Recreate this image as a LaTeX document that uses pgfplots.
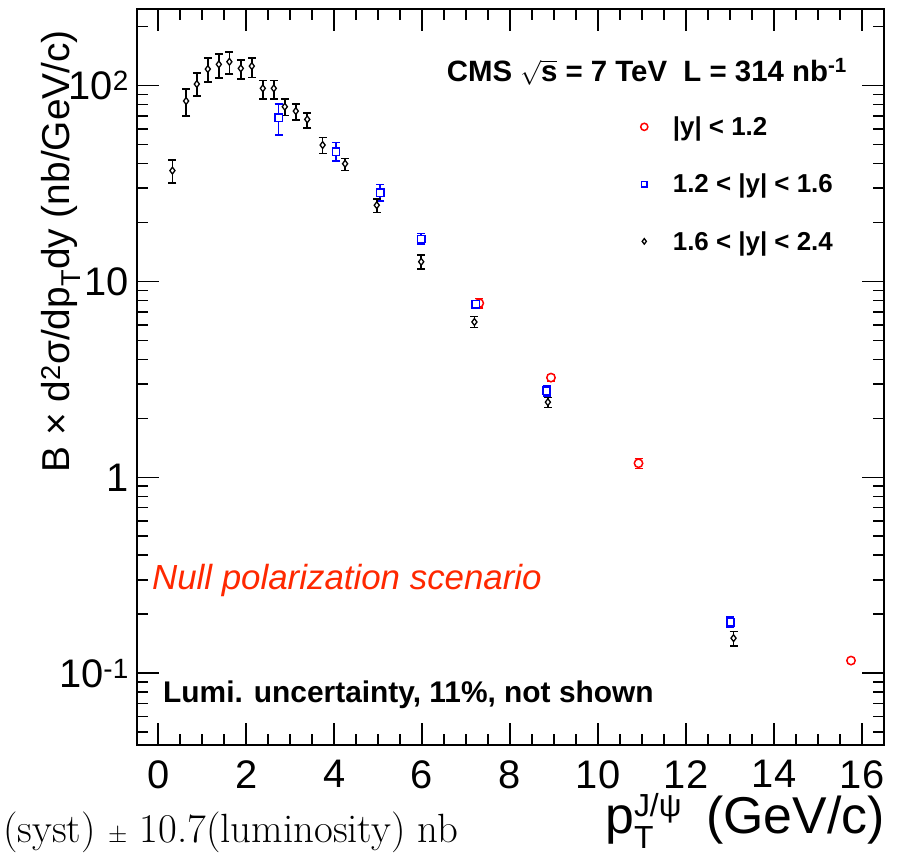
\documentclass[border=0pt]{standalone}
\usepackage{fontspec}
\setmainfont{Liberation Sans}
\usepackage{pgfplots}
\pgfplotsset{compat=1.18}
\usepackage{pgfplotstable}
\definecolor{nullred}{RGB}{255,40,0}
\definecolor{rootblue}{RGB}{0,0,255}
\definecolor{rootred}{RGB}{255,0,0}

\pgfplotstableread{
x y ep em
0.325 36.8 4.9 4.9
0.636 83.4 12.5 13.5
0.88 101.8 14.2 13.4
1.13 121.4 17.2 16.9
1.38 128.3 16.5 18.7
1.62 132.3 16.3 17.5
1.88 122.4 12.5 14.4
2.13 125.7 12.9 15.7
2.38 96.8 9.5 11.5
2.63 96.8 9.5 11.5
2.88 78.0 7.1 7.8
3.13 74.1 6.4 7.4
3.39 67.2 5.2 6.3
3.74 49.7 4.7 4.8
4.25 39.9 2.6 3.1
4.97 24.5 1.9 2.0
5.98 12.6 1.0 1.0
7.19 6.21 0.40 0.40
8.86 2.42 0.13 0.15
13.08 0.151 0.012 0.013
}\blackdata

\pgfplotstableread{
x y ep em
2.74 68.5 12.2 12.6
4.04 45.9 5.2 4.8
5.05 28.4 2.9 2.7
5.98 16.5 1.1 1.0
7.22 7.65 0.35 0.35
8.83 2.77 0.17 0.16
13.01 0.182 0.012 0.011
}\bluedata

\pgfplotstableread{
x y ep em
7.30 7.75 0.45 0.45
8.93 3.23 0.12 0.12
10.92 1.18 0.07 0.07
15.75 0.116 0.003 0.003
}\reddata

\begin{document}
\begin{tikzpicture}
\useasboundingbox (0,0) rectangle (897bp,855bp);
\begin{axis}[
  at={(137bp,110bp)}, anchor=south west,
  scale only axis, width=747bp, height=736bp,
  xmin=-0.48, xmax=16.5, ymode=log, ymin=0.043, ymax=246,
  clip=false,
  axis line style={line width=2bp},
  tick align=inside,
  major tick length=22bp, minor tick length=11bp,
  every tick/.style={black, line width=1.6bp},
  xtick={0,2,...,16}, minor x tick num=3,
  ytick={0.1,1,10,100},
  yticklabels={10\textsuperscript{-1},1,10,10\textsuperscript{2}},
  minor ytick={0.05,0.06,0.07,0.08,0.09,0.2,0.3,0.4,0.5,0.6,0.7,0.8,0.9,2,3,4,5,6,7,8,9,20,30,40,50,60,70,80,90,200},
  tick label style={font=\fontsize{40}{44}\selectfont},
  /pgf/number format/assume math mode=true,
  xticklabel style={inner sep=0pt, yshift=-15bp},
  yticklabel style={inner sep=0pt, xshift=-8bp},
  legend style={draw=none, fill=none, at={(0.674,0.858)}, anchor=north west,
    font=\bfseries\fontsize{26}{30}\selectfont, row sep=31bp, inner sep=0pt,
    nodes={inner sep=3bp}, /tikz/every odd column/.append style={column sep=22bp}},
  legend cell align=left,
  error bars/error bar style={line width=1.6bp},
  error bars/error mark options={rotate=90, mark size=4bp, line width=1.6bp},
]
\addplot[only marks, color=rootred, mark=*, mark size=4.2bp,
  mark options={line width=1.5bp, fill=white, draw=rootred},
  legend image post style={mark size=3.6bp},
  error bars/.cd, y dir=both, y explicit]
  table[x=x, y=y, y error plus=ep, y error minus=em] {\reddata};
\addlegendentry{|y| < 1.2}
\addplot[only marks, color=rootblue, mark=square*, mark size=3.6bp,
  mark options={line width=1.5bp, fill=white, draw=rootblue},
  legend image post style={mark size=2.8bp},
  error bars/.cd, y dir=both, y explicit]
  table[x=x, y=y, y error plus=ep, y error minus=em] {\bluedata};
\addlegendentry{1.2 < |y| < 1.6}
\addplot[only marks, color=black, mark=diamond*, mark size=3.4bp,
  mark options={line width=1.3bp, fill=white, draw=black},
  legend image post style={mark size=2.8bp},
  error bars/.cd, y dir=both, y explicit]
  table[x=x, y=y, y error plus=ep, y error minus=em] {\blackdata};
\addlegendentry{1.6 < |y| < 2.4}

\node[anchor=base east, inner sep=0pt, font=\bfseries\fontsize{29.5}{34}\selectfont]
  at (rel axis cs:0.9505,0.9012)
  {CMS $\sqrt{\mbox{s}}$ = 7 TeV\ \ L = 314 nb\textsuperscript{-1}};
\node[anchor=base west, inner sep=0pt, text=nullred, font=\itshape\fontsize{35}{40}\selectfont]
  at (rel axis cs:0.020,0.2106) {Null polarization scenario};
\node[anchor=base west, inner sep=0pt, font=\bfseries\fontsize{30}{34}\selectfont]
  at (rel axis cs:0.0348,0.0571) {Lumi. uncertainty, 11\%, not shown};
\node[rotate=90, anchor=base east, inner sep=0pt, font=\fontsize{39}{44}\selectfont]
  at (rel axis cs:-0.0897,0.9715)
  {B × d\textsuperscript{2}σ/dp\textsubscript{T}dy (nb/GeV/c)};
\node[anchor=base east, inner sep=0pt, font=\fontsize{52}{58}\selectfont]
  at (rel axis cs:1.0013,-0.1209)
  {p\rlap{\raisebox{-0.28em}{\fontsize{32}{36}\selectfont T}}\raisebox{0.33em}{\fontsize{32}{36}\selectfont J/ψ}\hspace{0.2em} (GeV/c)};
\node[anchor=base west, inner sep=0pt, font=\fontfamily{lmr}\fontsize{41}{46}\selectfont]
  at (rel axis cs:-0.1794,-0.1318) {(syst) $\pm$ 10.7(luminosity) nb};
\end{axis}
\end{tikzpicture}
\end{document}
